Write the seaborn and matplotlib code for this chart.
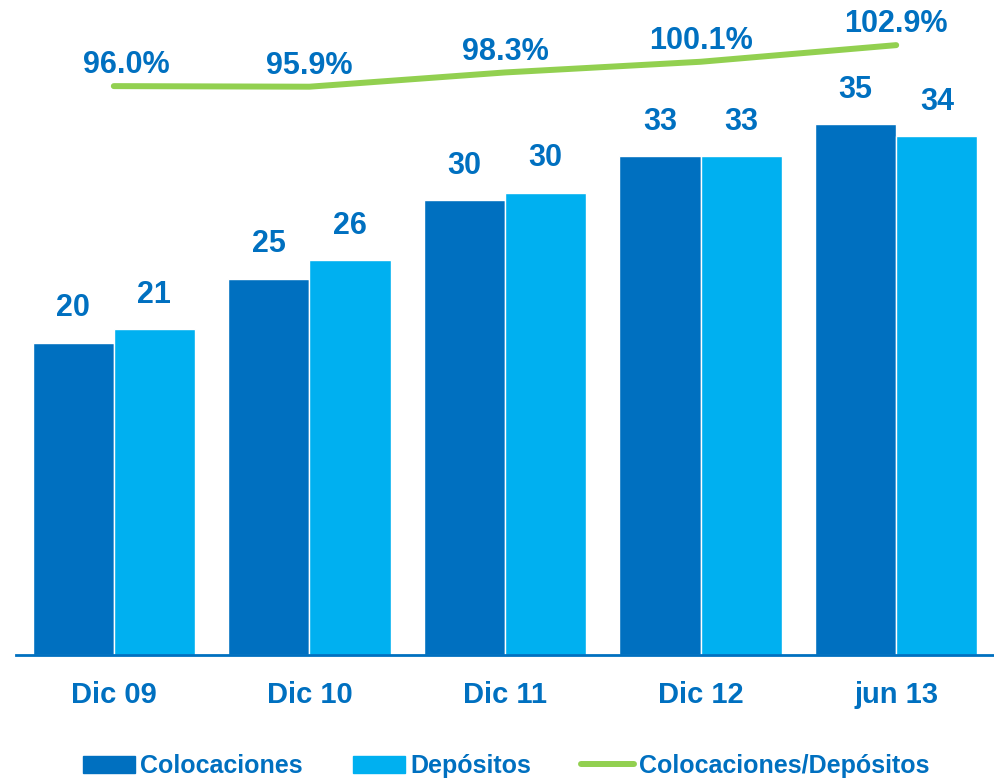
import numpy as np
import pandas as pd
import matplotlib
matplotlib.use("Agg")
import matplotlib.pyplot as plt
from matplotlib.patches import Patch
from matplotlib.lines import Line2D
import seaborn as sns

# ---- data ----
periods = ["Dic 09", "Dic 10", "Dic 11", "Dic 12", "jun 13"]
colocaciones = [20.4, 24.6, 29.7, 32.6, 34.7]
depositos = [21.3, 25.8, 30.2, 32.6, 33.9]
ratio = [96.0, 95.9, 98.3, 100.1, 102.9]
series_names = ["Colocaciones", "Depósitos"]
ratio_name = "Colocaciones/Depósitos"

DARK = "#0070C0"
LIGHT = "#00B0F0"
GREEN = "#92D050"
TXT = "#0070C0"

sns.set_theme(style="white")
plt.rcParams["font.family"] = ["Liberation Sans", "DejaVu Sans"]
plt.rcParams["font.weight"] = "bold"

df = pd.DataFrame({
    "period": periods * 2,
    "serie": [series_names[0]] * len(periods) + [series_names[1]] * len(periods),
    "value": colocaciones + depositos,
})

fig = plt.figure(figsize=(9.94, 7.81), dpi=100)
ax = fig.add_axes([0.0161, 0.1613, 0.9839, 0.8387])

sns.barplot(data=df, x="period", y="value", hue="serie", order=periods,
            hue_order=series_names, palette={series_names[0]: DARK, series_names[1]: LIGHT},
            width=0.83, gap=0, saturation=1, legend=False, ax=ax, errorbar=None)

ax.set_xlim(-0.5, len(periods) - 0.5)
ax.set_ylim(0, 42.8)
for c in ax.containers:
    ax.bar_label(c, labels=[f"{v:.0f}" for v in c.datavalues], padding=14,
                 color=TXT, fontsize=22, fontweight="bold")

for s in ["top", "right", "left"]:
    ax.spines[s].set_visible(False)
ax.spines["bottom"].set_color(DARK)
ax.spines["bottom"].set_linewidth(2)
ax.set_yticks([])
ax.set_xlabel("")
ax.set_ylabel("")
ax.set_xticks(range(len(periods)))
ax.set_xticklabels(periods, color=TXT, fontsize=21, fontweight="bold")
ax.tick_params(axis="x", which="major", length=0, pad=19)
ax.set_xticks(np.arange(-0.5, len(periods)), minor=True)
ax.tick_params(axis="x", which="minor", length=7, width=1.5, color=DARK, direction="out")

ax2 = ax.twinx()
sns.lineplot(x=np.arange(len(periods)), y=ratio, ax=ax2, color=GREEN,
             linewidth=4.3, solid_capstyle="round")
ax2.set_ylim(0.2, 110.5)
ax2.set_yticks([])
for s in ["top", "right", "left", "bottom"]:
    ax2.spines[s].set_visible(False)
for i, r in enumerate(ratio):
    dx = 9 if i == 0 else 0
    ax2.annotate(f"{r:.1f}%", (i, r), xytext=(dx, 15), textcoords="offset points",
                 ha="center", va="center", color=TXT, fontsize=22, fontweight="bold")

handles = [Patch(color=DARK, label=series_names[0]),
           Patch(color=LIGHT, label=series_names[1]),
           Line2D([0], [0], color=GREEN, linewidth=4.3, solid_capstyle="round", label=ratio_name)]
leg = fig.legend(handles=handles, loc="center", bbox_to_anchor=(506 / 994, 1 - 766 / 781),
                 ncol=3, frameon=False, fontsize=18, handlelength=2.1, handleheight=0.7,
                 handletextpad=0.2, columnspacing=2.0)
for t in leg.get_texts():
    t.set_color(TXT)
    t.set_fontweight("bold")

fig.savefig("out.png", dpi=100)
